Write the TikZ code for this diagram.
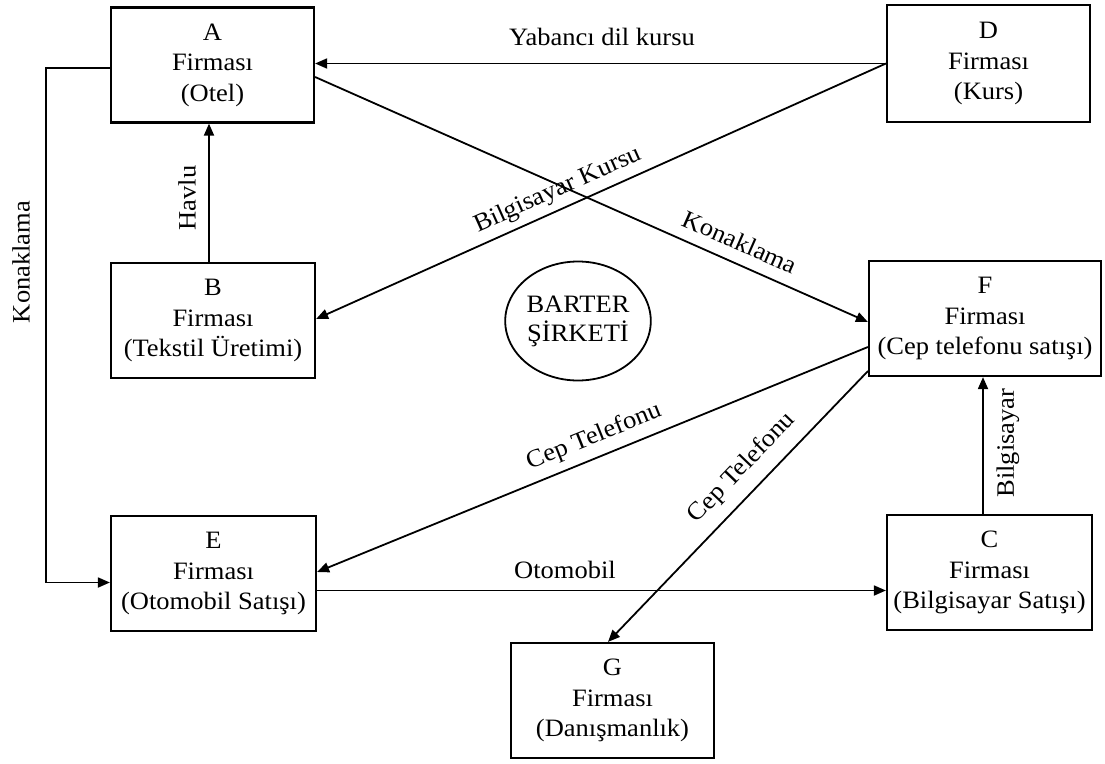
\documentclass[tikz,border=0pt]{standalone}
\usepackage{fontspec}
\setmainfont{Liberation Serif}[FakeStretch=1.06]
\usetikzlibrary{arrows.meta,shapes.geometric}
\begin{document}
\begin{tikzpicture}[x=1pt,y=-1pt,
  box/.style={draw, line width=2.2pt, minimum width=#1, minimum height=115pt,
    align=center, inner sep=0pt, font=\fontsize{25}{30.5}\selectfont},
  box/.default=204pt,
  conn/.style={line width=1.8pt, -{Triangle[length=12pt,width=10pt]}},
  lbl/.style={inner sep=1pt, font=\fontsize{25}{30}\selectfont}]
\fill[white] (0,0) rectangle (1105,763);
\useasboundingbox (0,0) rectangle (1105,763);

% firms
\node[box=203pt] (A) at (212.5,65) {A\\Firması\\(Otel)};
\node[box=204pt] (B) at (213,320.5) {B\\Firması\\(Tekstil Üretimi)};
\node[box=203pt, minimum height=117pt] (D) at (988.5,63.5) {D\\Firması\\(Kurs)};
\node[box=232pt] (F) at (985,318.5) {F\\Firması\\(Cep telefonu satışı)};
\node[box=205pt] (C) at (989.5,572.5) {C\\Firması\\(Bilgisayar Satışı)};
\node[box=205pt] (E) at (213.5,573.5) {E\\Firması\\(Otomobil Satışı)};
\node[box=203pt] (G) at (612.5,700.5) {G\\Firması\\(Danışmanlık)};
\node[draw, ellipse, line width=1.8pt, minimum width=137pt, minimum height=119pt,
  inner sep=0pt, align=center, font=\fontsize{25}{29}\selectfont] (BS) at (578,321) {BARTER\\ŞİRKETİ};

% connectors
\draw[conn] (D.west) -- (D.west -| A.east);
\draw[conn] (D.west) -- ([yshift=1.5pt]B.east);
\draw[conn] ([yshift=-12pt]A.east) -- ([yshift=-3.5pt]F.west);
\draw[conn] ([xshift=-4pt]B.north) -- ([xshift=-4pt]B.north |- A.south);
\draw[conn] ([yshift=-3pt]A.west) -- ++(-64,0) |- ([yshift=-9pt]E.west);
\draw[conn] ([yshift=-28.5pt]F.west) -- ([yshift=1.5pt]E.east);
\draw[conn] ([yshift=6pt]F.south west) -- ([xshift=-4.5pt]G.north);
\draw[conn] ([yshift=-17pt]E.east) -- ([yshift=-17pt]E.east -| C.west);
\draw[conn] ([xshift=-6.5pt]C.north) -- ([xshift=-6.5pt]C.north |- F.south);

% labels
\node[lbl] (l1) at (602,36.5) {Yabancı dil kursu};
\node[lbl, rotate=24.1] (l2) at (558,190) {Bilgisayar Kursu};
\node[lbl, rotate=-23.8] (l3) at (740,242) {Konaklama};
\node[lbl, rotate=90] (l4) at (187,198) {Havlu};
\node[lbl, rotate=90] (l5) at (21,262) {Konaklama};
\node[lbl, rotate=22] (l6) at (594,437) {Cep Telefonu};
\node[lbl, rotate=46.2] (l7) at (742,468) {Cep Telefonu};
\node[lbl] (l8) at (565,570) {Otomobil};
\node[lbl, rotate=90] (l9) at (1008,443) {Bilgisayar};
\end{tikzpicture}
\end{document}
